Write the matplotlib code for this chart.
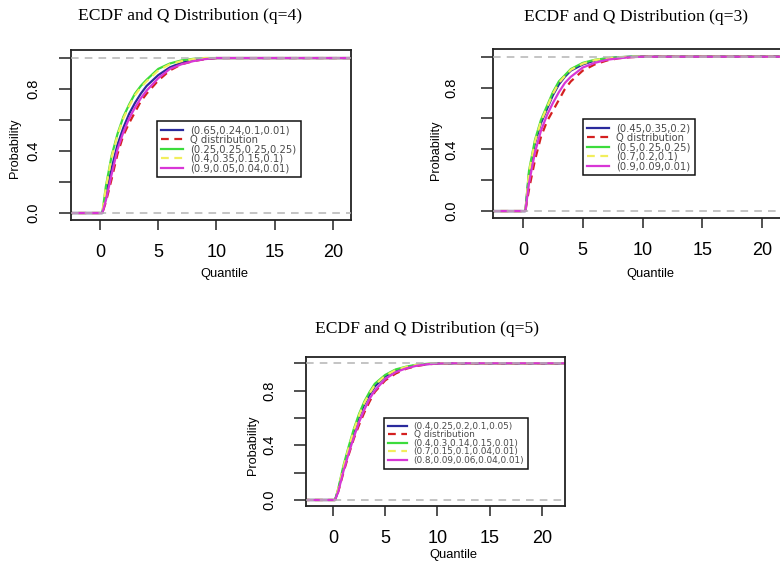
import numpy as np
import matplotlib
matplotlib.use("Agg")
import matplotlib.pyplot as plt

plt.rcParams['font.family'] = ['Liberation Sans', 'DejaVu Sans']

# --- ECDF values (same x grid for every curve) ---
x_grid = [-3, 0.2, 0.5, 1, 1.5, 2, 2.5, 3, 3.5, 4, 5, 6, 7, 8, 9, 10, 11, 23]

# q = 4
q4_labels = ['(0.65,0.24,0.1,0.01)', 'Q distribution', '(0.25,0.25,0.25,0.25)',
             '(0.4,0.35,0.15,0.1)', '(0.9,0.05,0.04,0.01)']
q4_blue = [0, 0, 0.11, 0.29, 0.44, 0.55, 0.64, 0.71, 0.77, 0.82, 0.89, 0.94, 0.97, 0.985, 0.995, 1, 1, 1]
q4_red = [0, 0, 0.07, 0.22, 0.38, 0.50, 0.58, 0.65, 0.72, 0.77, 0.855, 0.92, 0.96, 0.98, 0.993, 1, 1, 1]
q4_green = [0, 0, 0.17, 0.37, 0.51, 0.62, 0.70, 0.77, 0.82, 0.86, 0.93, 0.965, 0.985, 0.995, 1, 1, 1, 1]
q4_yellow = [0, 0, 0.16, 0.36, 0.50, 0.61, 0.69, 0.76, 0.81, 0.85, 0.92, 0.96, 0.98, 0.993, 1, 1, 1, 1]
q4_magenta = [0, 0, 0.08, 0.25, 0.41, 0.52, 0.61, 0.68, 0.74, 0.79, 0.87, 0.93, 0.96, 0.98, 0.993, 1, 1, 1]

# q = 3
q3_labels = ['(0.45,0.35,0.2)', 'Q distribution', '(0.5,0.25,0.25)',
             '(0.7,0.2,0.1)', '(0.9,0.09,0.01)']
q3_blue = [0, 0, 0.24, 0.44, 0.57, 0.66, 0.75, 0.82, 0.87, 0.91, 0.95, 0.975, 0.99, 0.996, 1, 1, 1, 1]
q3_red = [0, 0, 0.14, 0.33, 0.48, 0.58, 0.65, 0.72, 0.79, 0.84, 0.91, 0.95, 0.975, 0.99, 0.997, 1, 1, 1]
q3_green = [0, 0, 0.26, 0.46, 0.59, 0.68, 0.77, 0.84, 0.88, 0.92, 0.96, 0.98, 0.99, 0.997, 1, 1, 1, 1]
q3_yellow = [0, 0, 0.25, 0.45, 0.58, 0.67, 0.76, 0.83, 0.875, 0.915, 0.955, 0.978, 0.99, 0.996, 1, 1, 1, 1]
q3_magenta = [0, 0, 0.18, 0.38, 0.52, 0.62, 0.70, 0.77, 0.83, 0.87, 0.93, 0.96, 0.98, 0.99, 0.997, 1, 1, 1]

# q = 5
q5_labels = ['(0.4,0.25,0.2,0.1,0.05)', 'Q distribution', '(0.4,0.3,0.14,0.15,0.01)',
             '(0.7,0.15,0.1,0.04,0.01)', '(0.8,0.09,0.06,0.04,0.01)']
q5_blue = [0, 0, 0.07, 0.23, 0.37, 0.50, 0.61, 0.70, 0.77, 0.83, 0.905, 0.945, 0.97, 0.986, 0.994, 0.999, 1, 1]
q5_red = [0, 0, 0.06, 0.20, 0.33, 0.45, 0.55, 0.64, 0.72, 0.79, 0.875, 0.925, 0.96, 0.98, 0.992, 0.998, 1, 1]
q5_green = [0, 0, 0.08, 0.25, 0.39, 0.52, 0.63, 0.72, 0.79, 0.85, 0.915, 0.955, 0.975, 0.99, 0.996, 1, 1, 1]
q5_yellow = [0, 0, 0.08, 0.24, 0.38, 0.51, 0.62, 0.71, 0.78, 0.84, 0.91, 0.95, 0.973, 0.988, 0.995, 1, 1, 1]
q5_magenta = [0, 0, 0.06, 0.21, 0.34, 0.46, 0.57, 0.66, 0.74, 0.80, 0.885, 0.935, 0.963, 0.982, 0.993, 0.998, 1, 1]

x_ticks = [0, 5, 10, 15, 20]
y_ticks = [0, 0.2, 0.4, 0.6, 0.8, 1.0]
y_ticklabels = ['0.0', '', '0.4', '', '0.8', '']

colors = ['#2a2a9c', '#d42020', '#3cdc3c', '#f2ee5c', '#d836d6']
styles = ['-', (0, (3.5, 2.5)), '-', (0, (3.5, 2.5)), '-']

W, H = 780, 561
fig = plt.figure(figsize=(W / 100, H / 100), dpi=100)


def px_axes(left, top, right, bottom):
    return fig.add_axes([left / W, 1 - bottom / H, (right - left) / W, (bottom - top) / H])


def panel(box, xlim, ylim, series, labels, title, title_xy, xlab_xy, ylab_xy,
          leg_xy, leg_fs, ypad):
    ax = px_axes(*box)
    for ys, c, ls, lab in zip(series, colors, styles, labels):
        ax.plot(x_grid, ys, color=c, linestyle=ls, lw=1.6, label=lab)
    for h in (0, 1):
        ax.axhline(h, color='#b4b4b4', lw=1.1, linestyle=(0, (5, 4)), zorder=5)
    ax.set_xlim(*xlim)
    ax.set_ylim(*ylim)
    ax.set_xticks(x_ticks)
    ax.set_yticks(y_ticks)
    ax.set_yticklabels(y_ticklabels, rotation=90, va='center', fontsize=10.5)
    ax.tick_params(axis='x', length=7, width=1.1, labelsize=13, pad=10, color='#222')
    ax.tick_params(axis='y', length=9, width=1.1, pad=ypad, color='#222')
    for s in ax.spines.values():
        s.set_linewidth(1.3)
        s.set_color('#222')
    leg = ax.legend(loc='upper left', bbox_to_anchor=(leg_xy[0] / W, 1 - leg_xy[1] / H),
                    bbox_transform=fig.transFigure, borderaxespad=0, fancybox=False,
                    edgecolor='#111', framealpha=1,
                    prop={'family': 'DejaVu Sans', 'size': leg_fs}, labelcolor='#4a4a4a',
                    handlelength=2.2, handletextpad=0.7, labelspacing=-0.05,
                    borderpad=0.42)
    leg.get_frame().set_linewidth(1.1)
    fig.text(title_xy[0] / W, 1 - title_xy[1] / H, title, ha='center', va='center',
             family='Liberation Serif', fontsize=12.6)
    fig.text(xlab_xy[0] / W, 1 - xlab_xy[1] / H, 'Quantile', ha='center', va='center',
             fontsize=9.3)
    fig.text(ylab_xy[0] / W, 1 - ylab_xy[1] / H, 'Probability', ha='center', va='center',
             rotation=90, fontsize=9.2)
    return ax


panel((71, 50, 351, 220), (-2.49, 21.55), (-0.045, 1.052),
      [q4_blue, q4_red, q4_green, q4_yellow, q4_magenta], q4_labels,
      'ECDF and Q Distribution (q=4)', (190, 16), (224, 274), (15, 148),
      (157, 121), 7.2, 13)

panel((493, 49, 783, 218), (-2.51, 21.75), (-0.045, 1.05),
      [q3_blue, q3_red, q3_green, q3_yellow, q3_magenta], q3_labels,
      'ECDF and Q Distribution (q=3)', (636, 17), (650, 274), (436, 150),
      (583, 119), 7.2, 16)

panel((306, 357, 565, 506), (-2.58, 22.2), (-0.044, 1.046),
      [q5_blue, q5_red, q5_green, q5_yellow, q5_magenta], q5_labels,
      'ECDF and Q Distribution (q=5)', (427, 329), (453, 555), (253, 445),
      (384, 418), 6.4, 12)

fig.savefig('out.png', dpi=100)
